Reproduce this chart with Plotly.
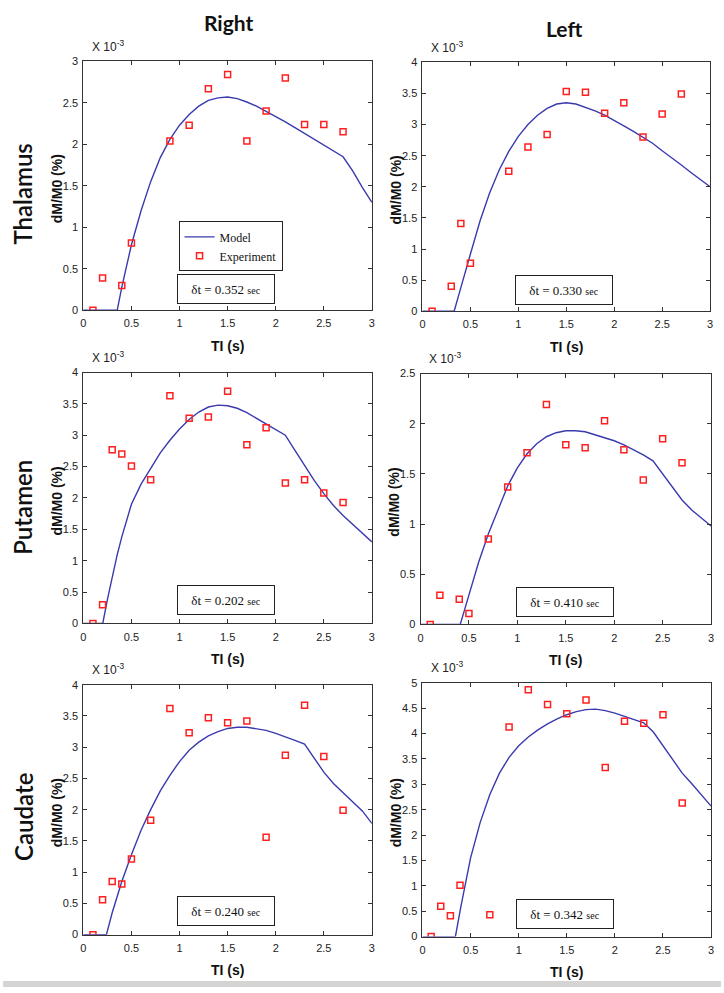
import plotly.graph_objects as go

W, H = 724, 993

# ---------------- data (dM/M0 in units of 1e-3 %) ----------------
row_names = ["Thalamus", "Putamen", "Caudate"]
col_names = ["Right", "Left"]
dt_labels = ["0.352", "0.330", "0.202", "0.410", "0.240", "0.342"]
y_max = [3, 4, 4, 2.5, 4, 5]

# Thalamus right
ti_exp_thal_r = [0.1, 0.2, 0.4, 0.5, 0.9, 1.1, 1.3, 1.5, 1.7, 1.9, 2.1, 2.3, 2.5, 2.7]
exp_thal_r = [0, 0.39, 0.30, 0.81, 2.04, 2.23, 2.67, 2.84, 2.04, 2.40, 2.80, 2.24, 2.24, 2.15]
ti_mod_thal_r = [0, 0.352, 0.4, 0.45, 0.5, 0.6, 0.7, 0.8, 0.9, 1.0, 1.1, 1.2, 1.3, 1.4, 1.5,
                 1.6, 1.7, 1.8, 1.9, 2.0, 2.1, 2.2, 2.3, 2.4, 2.5, 2.6, 2.7, 2.8, 2.9, 3.0]
mod_thal_r = [0, 0, 0.28, 0.54, 0.79, 1.20, 1.55, 1.84, 2.06, 2.23, 2.36, 2.46, 2.53, 2.56, 2.57,
              2.55, 2.51, 2.46, 2.40, 2.34, 2.27, 2.20, 2.13, 2.06, 1.99, 1.93, 1.85, 1.68, 1.48, 1.30]

# Thalamus left
ti_exp_thal_l = [0.1, 0.3, 0.4, 0.5, 0.9, 1.1, 1.3, 1.5, 1.7, 1.9, 2.1, 2.3, 2.5, 2.7]
exp_thal_l = [0, 0.40, 1.41, 0.77, 2.25, 2.64, 2.84, 3.53, 3.52, 3.18, 3.35, 2.80, 3.17, 3.49]
ti_mod_thal_l = [0, 0.33, 0.4, 0.45, 0.5, 0.6, 0.7, 0.8, 0.9, 1.0, 1.1, 1.2, 1.3, 1.4, 1.5,
                 1.6, 1.7, 1.8, 1.9, 2.0, 2.1, 2.2, 2.3, 2.4, 2.5, 2.6, 2.7, 2.8, 2.9, 3.0]
mod_thal_l = [0, 0, 0.38, 0.66, 0.92, 1.45, 1.90, 2.27, 2.57, 2.81, 3.00, 3.15, 3.26, 3.33, 3.35,
              3.33, 3.28, 3.22, 3.15, 3.07, 2.98, 2.89, 2.80, 2.70, 2.58, 2.47, 2.35, 2.23, 2.11, 2.00]

# Putamen right
ti_exp_put_r = [0.1, 0.2, 0.3, 0.4, 0.5, 0.7, 0.9, 1.1, 1.3, 1.5, 1.7, 1.9, 2.1, 2.3, 2.5, 2.7]
exp_put_r = [0, 0.30, 2.77, 2.70, 2.51, 2.29, 3.63, 3.27, 3.29, 3.70, 2.85, 3.12, 2.24, 2.29, 2.08, 1.93]
ti_mod_put_r = [0, 0.202, 0.25, 0.3, 0.35, 0.4, 0.5, 0.6, 0.7, 0.8, 0.9, 1.0, 1.1, 1.2, 1.3, 1.4, 1.5,
                1.6, 1.7, 1.8, 1.9, 2.0, 2.1, 2.2, 2.3, 2.4, 2.5, 2.6, 2.7, 2.8, 2.9, 3.0]
mod_put_r = [0, 0, 0.38, 0.75, 1.08, 1.38, 1.90, 2.22, 2.48, 2.72, 2.92, 3.10, 3.25, 3.37, 3.45, 3.48, 3.47,
             3.43, 3.36, 3.27, 3.17, 3.08, 3.00, 2.76, 2.52, 2.28, 2.07, 1.88, 1.72, 1.58, 1.44, 1.30]

# Putamen left
ti_exp_put_l = [0.1, 0.2, 0.4, 0.5, 0.7, 0.9, 1.1, 1.3, 1.5, 1.7, 1.9, 2.1, 2.3, 2.5, 2.7]
exp_put_l = [0, 0.29, 0.25, 0.11, 0.85, 1.37, 1.71, 2.19, 1.79, 1.76, 2.03, 1.74, 1.44, 1.85, 1.61]
ti_mod_put_l = [0, 0.41, 0.45, 0.5, 0.6, 0.7, 0.8, 0.9, 1.0, 1.1, 1.2, 1.3, 1.4, 1.5,
                1.6, 1.7, 1.8, 1.9, 2.0, 2.1, 2.2, 2.3, 2.4, 2.5, 2.6, 2.7, 2.8, 2.9, 3.0]
mod_put_l = [0, 0, 0.13, 0.30, 0.62, 0.90, 1.15, 1.38, 1.56, 1.70, 1.80, 1.87, 1.91, 1.93,
             1.93, 1.92, 1.89, 1.86, 1.83, 1.79, 1.74, 1.69, 1.63, 1.50, 1.36, 1.24, 1.14, 1.06, 0.98]

# Caudate right
ti_exp_cau_r = [0.1, 0.2, 0.3, 0.4, 0.5, 0.7, 0.9, 1.1, 1.3, 1.5, 1.7, 1.9, 2.1, 2.3, 2.5, 2.7]
exp_cau_r = [0, 0.56, 0.85, 0.81, 1.21, 1.83, 3.62, 3.23, 3.47, 3.39, 3.42, 1.56, 2.87, 3.67, 2.85, 1.99]
ti_mod_cau_r = [0, 0.24, 0.3, 0.4, 0.5, 0.6, 0.7, 0.8, 0.9, 1.0, 1.1, 1.2, 1.3, 1.4, 1.5,
                1.6, 1.7, 1.8, 1.9, 2.0, 2.1, 2.2, 2.3, 2.4, 2.5, 2.6, 2.7, 2.8, 2.9, 3.0]
mod_cau_r = [0, 0, 0.35, 0.85, 1.28, 1.67, 2.00, 2.30, 2.55, 2.77, 2.95, 3.08, 3.18, 3.25, 3.30,
             3.32, 3.32, 3.30, 3.27, 3.22, 3.17, 3.11, 3.05, 2.82, 2.60, 2.42, 2.27, 2.13, 1.98, 1.78]

# Caudate left
ti_exp_cau_l = [0.09, 0.19, 0.29, 0.39, 0.7, 0.9, 1.1, 1.3, 1.5, 1.7, 1.9, 2.1, 2.3, 2.5, 2.7]
exp_cau_l = [0, 0.60, 0.41, 1.01, 0.43, 4.13, 4.86, 4.57, 4.39, 4.66, 3.33, 4.24, 4.20, 4.37, 2.63]
ti_mod_cau_l = [0, 0.342, 0.4, 0.45, 0.5, 0.6, 0.7, 0.8, 0.9, 1.0, 1.1, 1.2, 1.3, 1.4, 1.5,
                1.6, 1.7, 1.8, 1.9, 2.0, 2.1, 2.2, 2.3, 2.4, 2.5, 2.6, 2.7, 2.8, 2.9, 3.0]
mod_cau_l = [0, 0, 0.60, 1.08, 1.55, 2.25, 2.80, 3.22, 3.53, 3.76, 3.93, 4.07, 4.19, 4.29, 4.37,
             4.43, 4.47, 4.48, 4.45, 4.40, 4.34, 4.28, 4.21, 4.03, 3.76, 3.48, 3.22, 3.01, 2.79, 2.57]

x_ticks = [0, 0.5, 1, 1.5, 2, 2.5, 3]

panels_data = [
    (ti_exp_thal_r, exp_thal_r, ti_mod_thal_r, mod_thal_r),
    (ti_exp_thal_l, exp_thal_l, ti_mod_thal_l, mod_thal_l),
    (ti_exp_put_r, exp_put_r, ti_mod_put_r, mod_put_r),
    (ti_exp_put_l, exp_put_l, ti_mod_put_l, mod_put_l),
    (ti_exp_cau_r, exp_cau_r, ti_mod_cau_r, mod_cau_r),
    (ti_exp_cau_l, exp_cau_l, ti_mod_cau_l, mod_cau_l),
]

# ---------------- layout (pixel boxes of the axes) ----------------
boxes = [  # left, top, right, bottom in pixels
    (81, 56, 372, 308),
    (423, 57, 713, 309),
    (81, 371, 372, 625),
    (421, 372, 714, 626),
    (81, 687, 372, 940),
    (423, 685, 714, 942),
]
dt_box_centers = [(225, 286), (566, 287), (225, 601), (567, 603), (225, 916), (567, 919)]

def px(x):
    return x / W

def py(y):
    return 1 - y / H

LINE_COLOR = "#3a3aae"
MARK_COLOR = "#ff1f1f"
AX_COLOR = "#333333"
SANS = "Arial, Liberation Sans, sans-serif"
SERIF = "Liberation Serif, Times New Roman, serif"
TICK_FONT = dict(family=SANS, size=11, color="#222")

fig = go.Figure()
annotations = []

for i, (xe, ye, xm, ym) in enumerate(panels_data):
    n = "" if i == 0 else str(i + 1)
    fig.add_trace(go.Scatter(x=xm, y=ym, mode="lines", name="Model",
                             line=dict(color=LINE_COLOR, width=1.4),
                             xaxis="x" + n, yaxis="y" + n, showlegend=(i == 0)))
    fig.add_trace(go.Scatter(x=xe, y=ye, mode="markers", name="Experiment",
                             marker=dict(symbol="square-open", size=6, color=MARK_COLOR,
                                         line=dict(width=1.5, color=MARK_COLOR)),
                             xaxis="x" + n, yaxis="y" + n, showlegend=(i == 0)))
    l, t, r, b = boxes[i]
    common = dict(showgrid=False, zeroline=False, showline=True, linecolor=AX_COLOR, linewidth=1,
                  mirror="ticks", ticks="inside", ticklen=4, tickcolor=AX_COLOR, tickwidth=1,
                  tickfont=TICK_FONT, fixedrange=True)
    fig.layout["xaxis" + n] = dict(domain=[px(l), px(r)], anchor="y" + n, range=[0, 3],
                                   tickvals=x_ticks, ticklabelstandoff=3, **common)
    fig.layout["yaxis" + n] = dict(domain=[py(b), py(t)], anchor="x" + n, range=[0, y_max[i]],
                                   dtick=0.5, ticklabelstandoff=2, **common)

    cx = (l + r) / 2
    cy = (t + b) / 2
    # y title
    annotations.append(dict(x=px(l - 27), y=py(cy + 3), xref="paper", yref="paper",
                            text="<b>dM/M0 (%)</b>", textangle=-90, showarrow=False,
                            font=dict(family=SANS, size=14, color="#111"),
                            xanchor="center", yanchor="middle"))
    # x title
    annotations.append(dict(x=px(cx), y=py(b + 36), xref="paper", yref="paper",
                            text="<b>TI (s)</b>", showarrow=False,
                            font=dict(family=SANS, size=14, color="#111"),
                            xanchor="center", yanchor="middle"))
    # exponent
    annotations.append(dict(x=px(l + 7), y=py(t - 16), xref="paper", yref="paper",
                            text="X 10<sup>-3</sup>", showarrow=False,
                            font=dict(family=SANS, size=12, color="#222"),
                            xanchor="left", yanchor="middle"))
    # delta-t box
    bx, by = dt_box_centers[i]
    annotations.append(dict(x=px(bx), y=py(by), xref="paper", yref="paper",
                            text="δt = " + dt_labels[i] + " <span style='font-size:10px'>sec</span>",
                            showarrow=False, width=94, height=26, bgcolor="white",
                            bordercolor="#222", borderwidth=1, borderpad=1,
                            font=dict(family=SERIF, size=13, color="#111"),
                            xanchor="center", yanchor="middle"))

# row labels
row_centers = [190, 507, 821]
for name, yc in zip(row_names, row_centers):
    annotations.append(dict(x=px(20), y=py(yc), xref="paper", yref="paper", text=name,
                            textangle=-90, showarrow=False,
                            font=dict(family="Lato, Open Sans, sans-serif", size=24, color="#111",
                                      weight=600),
                            xanchor="center", yanchor="middle"))
# column labels
for name, (xc, yc) in zip(col_names, [(227, 17), (566, 23)]):
    annotations.append(dict(x=px(xc), y=py(yc), xref="paper", yref="paper",
                            text="<b>" + name + "</b>", showarrow=False,
                            font=dict(family="Lato, Open Sans, sans-serif", size=21, color="#111"),
                            xanchor="center", yanchor="middle"))

fig.update_layout(
    width=W, height=H, autosize=False,
    margin=dict(l=0, r=0, t=0, b=0),
    paper_bgcolor="white", plot_bgcolor="white",
    annotations=annotations,
    legend=dict(x=px(177), y=py(218), xanchor="left", yanchor="top",
                bgcolor="white", bordercolor="#222", borderwidth=1,
                font=dict(family=SERIF, size=12, color="#111"),
                itemwidth=30, tracegroupgap=0),
    shapes=[dict(type="rect", xref="paper", yref="paper", x0=0, x1=1, y0=0, y1=py(987),
                 fillcolor="#d6d4d2", line=dict(width=0), layer="below")],
)

fig.write_html("out.html", config={"displayModeBar": False},
               post_script="document.body.style.margin='0';document.body.style.overflow='hidden';")
